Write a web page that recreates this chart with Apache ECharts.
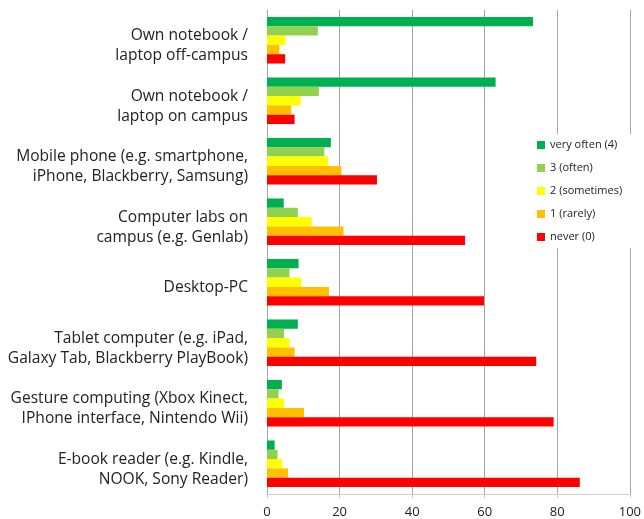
<!DOCTYPE html>
<html>
<head>
<meta charset="utf-8">
<script src="https://cdn.jsdelivr.net/npm/echarts@6/dist/echarts.min.js"></script>
<style>html,body{margin:0;padding:0;background:#fff}#c{width:644px;height:519px}</style>
</head>
<body>
<div id="c"></div>
<script>
const categories = [
  "Own notebook /\nlaptop off-campus",
  "Own notebook /\nlaptop on campus",
  "Mobile phone (e.g. smartphone,\niPhone, Blackberry, Samsung)",
  "Computer labs on\ncampus (e.g. Genlab)",
  "Desktop-PC",
  "Tablet computer (e.g. iPad,\nGalaxy Tab, Blackberry PlayBook)",
  "Gesture computing (Xbox Kinect,\nIPhone interface, Nintendo Wii)",
  "E-book reader (e.g. Kindle,\nNOOK, Sony Reader)"
];
const seriesNames = ["very often (4)", "3 (often)", "2 (sometimes)", "1 (rarely)", "never (0)"];
const veryOften = [73.3, 63.0, 17.6, 4.6, 8.7, 8.5, 4.1, 2.1];
const often     = [14.0, 14.3, 15.8, 8.5, 6.2, 4.7, 3.2, 2.9];
const sometimes = [5.1, 9.3, 16.8, 12.3, 9.4, 6.2, 4.7, 4.2];
const rarely    = [3.4, 6.7, 20.5, 21.1, 17.1, 7.6, 10.2, 5.8];
const never     = [5.0, 7.6, 30.3, 54.6, 59.8, 74.2, 79.0, 86.2];
const xTicks = [0, 20, 40, 60, 80, 100];

const colors = ["#00B050", "#92D050", "#FFFF00", "#FFC000", "#FF0000"];
const values = [veryOften, often, sometimes, rarely, never];

const chart = echarts.init(document.getElementById('c'), null, {renderer: 'canvas'});
chart.setOption({
  animation: false,
  color: colors,
  grid: {left: 267, right: 6, top: 10, bottom: 19, containLabel: false},
  legend: {
    orient: 'vertical',
    left: 533, top: 134,
    padding: [4, 10, 4, 4],
    backgroundColor: '#fff',
    itemWidth: 8, itemHeight: 8, itemGap: 9,
    icon: 'rect',
    data: seriesNames,
    textStyle: {fontFamily: 'Open Sans', fontSize: 11, color: '#222', lineHeight: 14}
  },
  xAxis: {
    type: 'value', min: 0, max: 100, interval: 20,
    axisLine: {show: true, lineStyle: {color: '#d0d0d0', width: 1}},
    axisTick: {show: true, length: 4, lineStyle: {color: '#d0d0d0'}},
    splitLine: {show: true, lineStyle: {color: '#a6a6a6', width: 1}},
    axisLabel: {fontFamily: 'Open Sans', fontSize: 13, color: '#222', margin: 12,
      formatter: v => xTicks.includes(v) ? String(v) : ''}
  },
  yAxis: {
    type: 'category', data: categories, inverse: true,
    axisLine: {show: true, lineStyle: {color: '#a6a6a6'}},
    axisTick: {show: false},
    axisLabel: {fontFamily: 'Open Sans', fontSize: 15.6, color: '#222', margin: 19, lineHeight: 20,
      align: 'right',
      formatter: v => '{s| }\n' + v,
      rich: {s: {fontSize: 1, lineHeight: 11}}}
  },
  series: seriesNames.map((n, i) => ({
    name: n, type: 'bar', data: values[i],
    barGap: '0%', barCategoryGap: '23%',
    itemStyle: {color: colors[i]}
  }))
});
</script>
</body>
</html>
